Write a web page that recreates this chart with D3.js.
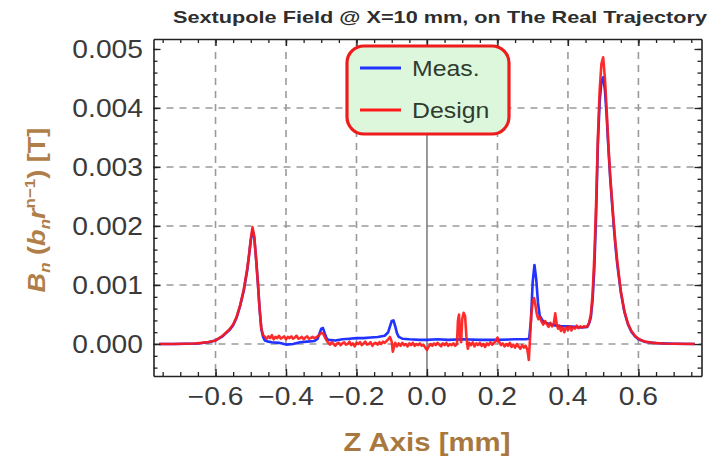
<!DOCTYPE html>
<html>
<head>
<meta charset="utf-8">
<script src="https://cdn.jsdelivr.net/npm/d3@7"></script>
<style>
body{margin:0;background:#fff;}
text{font-family:"Liberation Sans",Arial,sans-serif;}
</style>
</head>
<body>
<svg width="718" height="460"></svg>
<script>
// field values are in units of 1e-4 T, z in mm
var measPts = [
[-0.76,0],[-0.72,0],[-0.68,0.05],[-0.65,0.1],[-0.62,0.3],[-0.60,0.6],[-0.58,1.3],[-0.56,2.4],
[-0.55,3.2],[-0.54,4.5],[-0.53,6.5],[-0.52,9.0],[-0.51,12.5],[-0.505,15],[-0.50,17.5],[-0.495,19.3],
[-0.49,18.0],[-0.485,14.5],[-0.48,10.5],[-0.475,6.0],[-0.47,2.5],[-0.465,1.2],[-0.46,0.6],[-0.45,0.4],
[-0.44,0.3],[-0.42,0.2],[-0.40,-0.1],[-0.38,0.0],[-0.36,0.3],[-0.34,0.4],[-0.32,0.5],[-0.31,0.9],
[-0.305,1.8],[-0.30,2.6],[-0.295,2.7],[-0.29,1.8],[-0.285,1.0],[-0.28,0.7],[-0.26,0.6],[-0.24,0.8],
[-0.22,0.9],[-0.20,1.0],[-0.18,1.0],[-0.16,1.1],[-0.14,1.2],[-0.12,1.4],[-0.11,2.0],[-0.105,3.0],
[-0.10,3.9],[-0.095,4.0],[-0.09,3.0],[-0.085,1.8],[-0.08,1.2],[-0.07,0.9],[-0.05,0.8],[-0.02,0.7],
[0,0.7],[0.03,0.8],[0.06,0.7],[0.10,0.8],[0.15,0.7],[0.20,0.7],[0.25,0.8],[0.28,0.8],[0.29,0.9],
[0.295,4.0],[0.30,10.5],[0.305,13.4],[0.31,11.0],[0.315,7.0],[0.32,4.8],[0.33,3.8],[0.34,3.5],
[0.36,3.2],[0.38,3.0],[0.40,3.0],[0.42,2.9],[0.44,2.8],[0.455,2.9],[0.46,3.5],[0.465,4.5],[0.47,7.5],
[0.475,13],[0.48,22],[0.485,34],[0.49,41],[0.495,44.5],[0.50,45.2],[0.505,43],[0.51,38.5],[0.515,33],
[0.52,28],[0.525,24],[0.53,20],[0.535,16.5],[0.54,13.5],[0.55,8.8],[0.56,5.5],[0.57,3.4],[0.58,2.1],
[0.59,1.3],[0.60,0.8],[0.62,0.35],[0.65,0.15],[0.70,0.05],[0.76,0]
];

var designPts = [
[-0.76,0],[-0.72,0],[-0.69,0.05],[-0.66,0.1],[-0.64,0.2],[-0.62,0.35],[-0.60,0.6],[-0.58,1.4],
[-0.56,2.5],[-0.55,3.3],[-0.54,4.6],[-0.53,6.6],[-0.52,9.2],[-0.51,12.8],[-0.505,15],[-0.50,17.8],
[-0.495,19.8],[-0.49,18.2],[-0.485,14.5],[-0.48,10.5],[-0.475,6],[-0.47,2.6],[-0.465,1.5],
[-0.46,1.2],[-0.455,0.9],[-0.45,1.3],[-0.445,1.0],[-0.44,1.5],[-0.435,0.8],[-0.43,1.2],[-0.425,1.0],
[-0.42,1.4],[-0.415,0.9],[-0.41,1.1],[-0.405,1.3],[-0.40,0.8],[-0.395,1.2],[-0.39,1.0],[-0.385,1.3],
[-0.38,0.9],[-0.375,1.1],[-0.37,1.4],[-0.365,0.9],[-0.36,1.0],[-0.355,1.2],[-0.35,0.8],[-0.345,1.1],
[-0.34,1.3],[-0.335,0.9],[-0.33,1.0],[-0.325,1.2],[-0.32,1.0],[-0.315,1.1],[-0.31,1.3],[-0.305,1.6],
[-0.30,1.9],[-0.295,1.8],[-0.29,1.2],[-0.285,0.6],
[-0.28,0.2],[-0.275,-0.1],[-0.27,0.3],[-0.265,0.0],[-0.26,-0.3],[-0.255,0.1],[-0.25,0.2],[-0.245,-0.2],
[-0.24,0.1],[-0.235,0.3],[-0.23,-0.1],[-0.225,0.0],[-0.22,0.4],[-0.215,-0.2],[-0.21,0.1],[-0.205,-0.4],
[-0.20,0.2],[-0.195,0.0],[-0.19,0.3],[-0.185,-0.2],[-0.18,0.1],[-0.175,0.4],[-0.17,-0.1],[-0.165,0.0],
[-0.16,0.3],[-0.155,-0.3],[-0.15,0.1],[-0.145,0.2],[-0.14,-0.1],[-0.135,0.3],[-0.13,0.0],[-0.125,0.4],
[-0.12,0.2],[-0.115,0.5],[-0.11,0.8],[-0.105,1.2],[-0.10,0.4],[-0.097,-1.3],[-0.094,-0.6],[-0.09,0.2],
[-0.085,-0.4],[-0.08,0.1],
[-0.075,-0.3],[-0.07,0.2],[-0.065,-0.2],[-0.06,0.0],[-0.055,-0.4],[-0.05,0.1],[-0.045,-0.2],[-0.04,0.2],
[-0.035,-0.3],[-0.03,0.0],[-0.025,-0.2],[-0.02,0.1],[-0.015,-0.3],[-0.01,-0.1],[-0.005,-0.6],[0,-1.0],
[0.005,-0.4],[0.01,0.0],[0.015,-0.3],[0.02,0.1],[0.025,-0.2],[0.03,0.2],[0.035,-0.1],[0.04,-0.4],
[0.045,0.1],[0.05,-0.2],[0.055,0.2],[0.06,-0.3],[0.065,0.0],[0.07,-0.2],[0.075,0.1],[0.08,-0.3],[0.085,0.0],
[0.088,4.0],[0.091,5.0],[0.094,1.0],[0.097,0.3],[0.10,4.2],[0.104,5.3],[0.108,4.8],[0.112,1.2],
[0.116,-0.8],[0.12,0.2],
[0.125,-0.2],[0.13,0.3],[0.135,-0.4],[0.14,0.1],[0.145,-0.2],[0.15,0.2],[0.155,-0.3],[0.16,0.0],
[0.165,-0.5],[0.17,0.1],[0.175,-0.2],[0.18,0.3],[0.185,-0.1],[0.19,0.2],[0.195,0.5],[0.20,1.1],
[0.205,0.3],[0.21,-0.2],[0.215,0.1],[0.22,-0.4],[0.225,0.0],[0.23,-0.3],[0.235,0.2],[0.24,-0.5],
[0.245,-0.1],[0.25,-0.6],[0.255,0.0],[0.26,-0.4],[0.265,-0.8],[0.27,-0.2],[0.275,-0.6],[0.28,-0.3],
[0.285,-1.0],[0.289,-2.7],[0.292,0.5],[0.296,5.0],[0.30,7.2],[0.304,7.8],[0.308,6.5],[0.312,5.0],
[0.316,4.2],[0.32,4.6],[0.325,3.8],[0.33,3.3],[0.335,3.9],[0.34,3.4],[0.345,2.9],[0.35,3.6],
[0.355,3.0],[0.36,3.5],[0.364,5.2],[0.368,3.4],[0.372,2.6],[0.376,3.1],[0.38,2.2],[0.385,2.8],
[0.39,2.0],[0.395,2.9],[0.40,2.4],[0.405,3.0],[0.41,2.3],[0.415,2.9],[0.42,2.6],[0.425,3.1],
[0.43,2.7],[0.435,3.0],[0.44,2.8],[0.445,3.0],[0.45,2.9],[0.455,3.0],[0.46,3.6],[0.465,5.0],
[0.47,8.5],[0.475,15],[0.48,24],[0.485,35],[0.49,43],[0.495,47.5],[0.50,48.6],[0.505,45],[0.51,39.5],
[0.515,33.5],[0.52,28.5],[0.525,24.5],[0.53,20.5],[0.535,17],[0.54,14],[0.55,9],[0.56,5.6],[0.57,3.5],
[0.58,2.2],[0.59,1.4],[0.60,0.9],[0.61,0.6],[0.62,0.4],[0.64,0.2],[0.67,0.1],[0.70,0.05],[0.76,0]
];

var xTicks = [-0.6,-0.4,-0.2,0.0,0.2,0.4,0.6];
var xTickLabels = ["\u22120.6","\u22120.4","\u22120.2","0.0","0.2","0.4","0.6"];
var yTicks = [0,0.001,0.002,0.003,0.004,0.005];
var yTickLabels = ["0.000","0.001","0.002","0.003","0.004","0.005"];
var seriesNames = ["Meas.","Design"];
var seriesColors = ["#2233ff","#ff1a1a"];

var frame = {left:153.5, right:701.5, top:39, bottom:376};
var stretch = 1.13; // picture text looks a bit wide

var svg = d3.select("svg");

var xScale = d3.scaleLinear()
    .domain([-0.776,0.779])
    .range([frame.left,frame.right]);
var yScale = d3.scaleLinear()
    .domain([-0.000542,0.005169])
    .range([frame.bottom,frame.top]);

var stretchedText = function(g,x,y,str)
{
    return g.append("text")
        .attr("transform","translate("+x+","+y+") scale("+stretch+",1)")
        .text(str);
}

// grid lines
var grid = svg.append("g").attr("class","grid")
    .style("stroke","#9a9a9a").style("stroke-width",1.6).style("stroke-dasharray","7,6");
grid.selectAll(".gx").data(xTicks.filter(function(d){return d!=0}))
    .enter().append("line")
    .attr("x1",function(d){return xScale(d)}).attr("x2",function(d){return xScale(d)})
    .attr("y1",frame.top).attr("y2",frame.bottom);
grid.selectAll(".gy").data(yTicks.filter(function(d){return d<0.0045}))
    .enter().append("line")
    .attr("y1",function(d){return yScale(d)}).attr("y2",function(d){return yScale(d)})
    .attr("x1",frame.left).attr("x2",frame.right);

// vertical axis at z=0
svg.append("line")
    .attr("x1",xScale(0)).attr("x2",xScale(0))
    .attr("y1",frame.top).attr("y2",frame.bottom)
    .style("stroke","#808080").style("stroke-width",1.6);

// curves
var line = d3.line()
    .x(function(d){return xScale(d[0])})
    .y(function(d){return yScale(d[1]*1e-4)});

svg.append("path").datum(measPts)
    .attr("d",line)
    .style("fill","none").style("stroke",seriesColors[0]).style("stroke-width",2.6)
    .style("stroke-linejoin","round");
svg.append("path").datum(designPts)
    .attr("d",line)
    .style("fill","none").style("stroke",seriesColors[1]).style("stroke-width",2.6)
    .style("stroke-linejoin","round").style("opacity",0.92);

// frame with ticks on all sides
var axes = svg.append("g").attr("class","frame");
var xMinor = d3.range(-15,16).map(function(k){return k*0.05});
var yMinor = d3.range(-2,26).map(function(k){return k*0.0002});
var noDomain = function(g){g.select(".domain").remove()};

axes.append("g").attr("transform","translate(0,"+frame.bottom+")")
    .call(d3.axisBottom(xScale).tickValues(xMinor).tickSize(-4).tickFormat("")).call(noDomain);
axes.append("g").attr("transform","translate(0,"+frame.top+")")
    .call(d3.axisTop(xScale).tickValues(xMinor).tickSize(-4).tickFormat("")).call(noDomain);
axes.append("g").attr("transform","translate("+frame.left+",0)")
    .call(d3.axisLeft(yScale).tickValues(yMinor).tickSize(-4).tickFormat("")).call(noDomain);
axes.append("g").attr("transform","translate("+frame.right+",0)")
    .call(d3.axisRight(yScale).tickValues(yMinor).tickSize(-4).tickFormat("")).call(noDomain);
axes.append("g").attr("transform","translate(0,"+frame.bottom+")")
    .call(d3.axisBottom(xScale).tickValues(xTicks).tickSize(-7).tickSizeOuter(0).tickFormat(""));
axes.append("g").attr("transform","translate(0,"+frame.top+")")
    .call(d3.axisTop(xScale).tickValues(xTicks).tickSize(-7).tickSizeOuter(0).tickFormat(""));
axes.append("g").attr("transform","translate("+frame.left+",0)")
    .call(d3.axisLeft(yScale).tickValues(yTicks).tickSize(-7).tickSizeOuter(0).tickFormat(""));
axes.append("g").attr("transform","translate("+frame.right+",0)")
    .call(d3.axisRight(yScale).tickValues(yTicks).tickSize(-7).tickSizeOuter(0).tickFormat(""));
axes.selectAll("line").style("stroke","#222").style("stroke-width",1.3);
axes.selectAll(".domain").style("stroke","#222").style("stroke-width",1.6);

// tick labels
var labels = svg.append("g").style("font-size","25px").style("fill","#3a3a3a");
xTicks.forEach(function(t,i)
{
    stretchedText(labels,xScale(t),405,xTickLabels[i]).attr("text-anchor","middle");
});
yTicks.forEach(function(t,i)
{
    stretchedText(labels,143,yScale(t)+9,yTickLabels[i]).attr("text-anchor","end");
});

// axis titles
stretchedText(svg,427,451,"Z Axis [mm]")
    .attr("text-anchor","middle")
    .style("font-size","26px").style("font-weight","bold").style("fill","#a8783e");

var yLab = svg.append("text")
    .attr("transform","translate(45,210) rotate(-90) scale("+stretch+",1)")
    .attr("text-anchor","middle")
    .style("font-size","24px").style("font-weight","bold").style("fill","#b07e48");
yLab.append("tspan").style("font-style","italic").text("B");
yLab.append("tspan").attr("dy",5).style("font-size","15px").style("font-style","italic").text("n");
yLab.append("tspan").attr("dy",-5).text(" (");
yLab.append("tspan").style("font-style","italic").text("b");
yLab.append("tspan").attr("dy",5).style("font-size","15px").style("font-style","italic").text("n");
yLab.append("tspan").attr("dy",-5).style("font-style","italic").text("r");
yLab.append("tspan").attr("dy",-10).style("font-size","15px").text("n\u22121");
yLab.append("tspan").attr("dy",10).text(") [T]");

// title, fitted to the width it has in the picture
svg.append("text")
    .attr("x",440).attr("y",23)
    .attr("text-anchor","middle")
    .attr("textLength",534).attr("lengthAdjust","spacingAndGlyphs")
    .style("font-size","17px").style("font-weight","bold").style("fill","#2e2e2e")
    .text("Sextupole Field @ X=10 mm, on The Real Trajectory");

// legend
var legend = svg.append("g").attr("class","legend");
legend.append("rect")
    .attr("x",347).attr("y",46).attr("width",162).attr("height",88)
    .attr("rx",17).attr("ry",17)
    .style("fill","#ddf7dc").style("stroke","#ee1c1c").style("stroke-width",3.2);
var entries = legend.selectAll(".legendEntry")
    .data(seriesNames)
    .enter().append("g")
    .attr("class","legendEntry")
    .attr("transform",function(d,i){return "translate(0,"+(68+i*42)+")"});
entries.append("line")
    .attr("x1",360).attr("x2",401).attr("y1",0).attr("y2",0)
    .style("stroke",function(d,i){return seriesColors[i]}).style("stroke-width",3);
entries.each(function(d)
{
    stretchedText(d3.select(this),412,8,d).style("font-size","22px").style("fill","#2f3b2f");
});
</script>
</body>
</html>
